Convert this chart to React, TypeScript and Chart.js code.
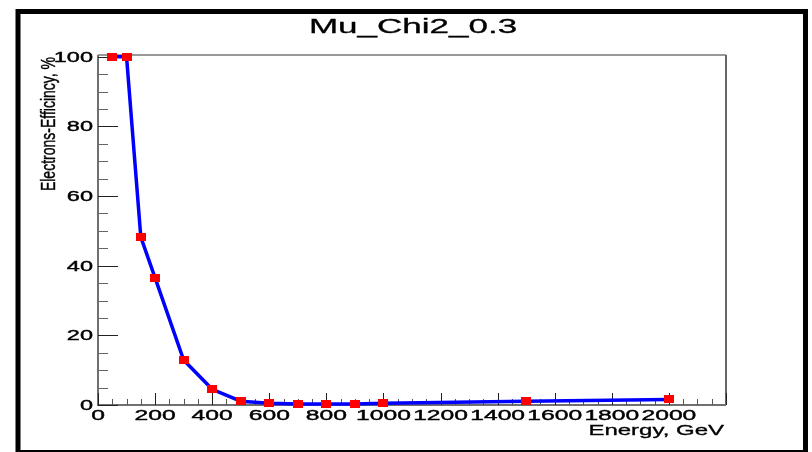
import React, { useEffect, useRef } from 'react';
import { Chart, registerables } from 'chart.js';

Chart.register(...registerables);

const energies = [50, 100, 150, 200, 300, 400, 500, 600, 700, 800, 900, 1000, 1500, 2000];
const efficiency = [100, 100, 48.2, 36.5, 12.9, 4.5, 1.1, 0.5, 0.3, 0.3, 0.3, 0.5, 1.1, 1.6];
const xTickValues = [0, 200, 400, 600, 800, 1000, 1200, 1400, 1600, 1800, 2000];
const xTickLabels = ['0', '200', '400', '600', '800', '1000', '1200', '1400', '1600', '1800', '2000'];
const yTickValues = [0, 20, 40, 60, 80, 100];
const yTickLabels = ['0', '20', '40', '60', '80', '100'];
const chartTitle = 'Mu_Chi2_0.3';
const xTitle = 'Energy, GeV';
const yTitle = 'Electrons-Efficincy, %';

const FONT = '"Liberation Sans", Arial, Helvetica, sans-serif';

function drawText(
  ctx: CanvasRenderingContext2D,
  text: string,
  x: number,
  y: number,
  size: number,
  sx: number,
  align: CanvasTextAlign,
  baseline: CanvasTextBaseline,
  rotate = 0,
  stroke = 0
) {
  ctx.save();
  ctx.translate(x, y);
  ctx.scale(sx, 1);
  if (rotate) ctx.rotate(rotate);
  ctx.font = `${size}px ${FONT}`;
  ctx.textAlign = align;
  ctx.textBaseline = baseline;
  ctx.fillStyle = '#000';
  ctx.fillText(text, 0, 0);
  if (stroke > 0) {
    ctx.strokeStyle = '#000';
    ctx.lineWidth = stroke;
    ctx.strokeText(text, 0, 0);
  }
  ctx.restore();
}

const rootStylePlugin = {
  id: 'rootStyle',
  beforeDatasetsDraw(chart: any) {
    const ctx: CanvasRenderingContext2D = chart.ctx;
    const xs = chart.scales.x;
    const ys = chart.scales.y;
    const ca = chart.chartArea;
    ctx.save();
    // outer black frame
    ctx.strokeStyle = '#000';
    ctx.lineWidth = 5;
    ctx.strokeRect(18, 11.5, 787.5, 441);

    // plot frame: top & right
    ctx.lineWidth = 2;
    ctx.strokeStyle = '#999';
    ctx.beginPath();
    ctx.moveTo(ca.left, ca.top);
    ctx.lineTo(ca.right, ca.top);
    ctx.stroke();
    ctx.strokeStyle = '#666';
    ctx.beginPath();
    ctx.moveTo(ca.right, ca.top);
    ctx.lineTo(ca.right, ca.bottom);
    ctx.stroke();

    // axes lines
    ctx.strokeStyle = '#707070';
    ctx.beginPath();
    ctx.moveTo(ca.left, ca.top);
    ctx.lineTo(ca.left, ca.bottom);
    ctx.lineTo(ca.right, ca.bottom);
    ctx.stroke();

    // x ticks
    ctx.lineWidth = 1;
    for (let v = 0; v <= xs.max; v += 50) {
      const px = Math.round(xs.getPixelForValue(v)) + 0.5;
      const major = v % 200 === 0;
      ctx.strokeStyle = major ? '#222' : '#555';
      ctx.beginPath();
      ctx.moveTo(px, ca.bottom);
      ctx.lineTo(px, ca.bottom - (major ? 12 : 6));
      ctx.stroke();
    }
    // y ticks
    for (let v = 0; v <= 100; v += 5) {
      const py = Math.round(ys.getPixelForValue(v)) + 0.5;
      const major = v % 20 === 0;
      ctx.strokeStyle = major ? '#222' : '#666';
      ctx.beginPath();
      ctx.moveTo(ca.left, py);
      ctx.lineTo(ca.left + (major ? 20 : 10), py);
      ctx.stroke();
    }
    ctx.restore();

    // tick labels
    xTickValues.forEach((v, i) => {
      drawText(ctx, xTickLabels[i], xs.getPixelForValue(v), 420, 14.5, 1.7, 'center', 'alphabetic', 0, 0.4);
    });
    yTickValues.forEach((v, i) => {
      drawText(ctx, yTickLabels[i], 93, ys.getPixelForValue(v) + 5, 14.5, 1.62, 'right', 'alphabetic', 0, 0.4);
    });

    // titles
    drawText(ctx, chartTitle, 413, 33, 20, 1.75, 'center', 'alphabetic', 0, 0.3);
    drawText(ctx, xTitle, 724, 435, 15, 1.6, 'right', 'alphabetic', 0, 0.3);
    drawText(ctx, yTitle, 55, 57, 14, 1.4, 'right', 'alphabetic', -Math.PI / 2, 0.3);
  },
};

function makeMarker(): HTMLCanvasElement {
  const c = document.createElement('canvas');
  c.width = 10;
  c.height = 8;
  const g = c.getContext('2d')!;
  g.fillStyle = '#ff0000';
  g.fillRect(0, 0, 10, 8);
  return c;
}

export default function App() {
  const ref = useRef<HTMLCanvasElement | null>(null);
  useEffect(() => {
    if (!ref.current) return;
    const marker = makeMarker();
    const chart = new Chart(ref.current, {
      type: 'line',
      data: {
        datasets: [
          {
            data: energies.map((e, i) => ({ x: e, y: efficiency[i] })),
            borderColor: '#0000ff',
            borderWidth: 3.5,
            tension: 0,
            pointStyle: marker as any,
            pointRadius: 5,
            pointHoverRadius: 5,
            backgroundColor: '#ff0000',
            clip: 4 as any,
          },
        ],
      },
      options: {
        responsive: false,
        animation: false,
        devicePixelRatio: 1,
        layout: { padding: { left: 98, right: 86, top: 55, bottom: 47 } },
        plugins: { legend: { display: false }, tooltip: { enabled: false }, title: { display: false } },
        scales: {
          x: { type: 'linear', min: 0, max: 2200, display: false },
          y: { type: 'linear', min: 0, max: 100.5, display: false },
        },
        events: [],
      },
      plugins: [rootStylePlugin],
    });
    return () => chart.destroy();
  }, []);
  return (
    <div style={{ position: 'absolute', left: 0, top: 0, width: 812, height: 452, background: '#fff' }}>
      <canvas ref={ref} width={812} height={452} style={{ display: 'block' }} />
    </div>
  );
}
